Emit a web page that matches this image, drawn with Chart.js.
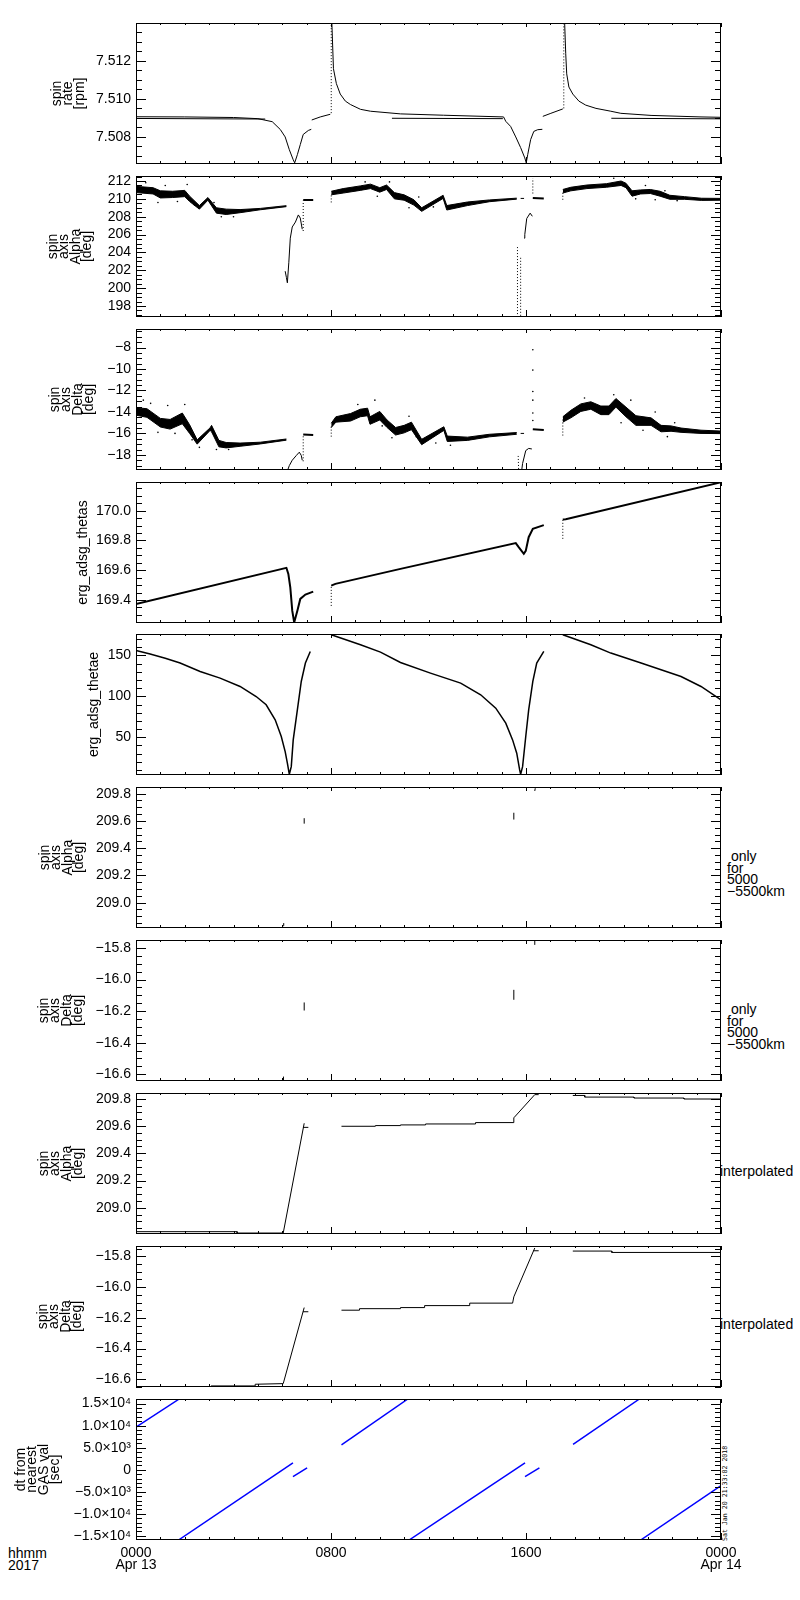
<!DOCTYPE html>
<html>
<head>
<meta charset="utf-8">
<script src="https://cdn.jsdelivr.net/npm/chart.js@4.4.1/dist/chart.umd.min.js"></script>
<style>
  body { margin: 0; background: #fff; width: 800px; height: 1600px; position: relative; overflow: hidden;
         font-family: "Liberation Sans", Arial, sans-serif; color: #000; }
  canvas { position: absolute; left: 0; }
  .note { position: absolute; font-size: 14px; line-height: 11.5px; white-space: pre; }
  .stamp { position: absolute; left: 721px; top: 1541px; font: 6.6px "DejaVu Sans Mono", monospace;
           white-space: pre; transform: rotate(-90deg); transform-origin: left top; }
</style>
</head>
<body>
<div class="note" style="left:8px;top:1547px;line-height:12px">hhmm
2017</div>
<div class="note" style="left:727px;top:851px"> only
for
5000
−5500km</div>
<div class="note" style="left:727px;top:1004px"> only
for
5000
−5500km</div>
<div class="note" style="left:720px;top:1166px">interpolated</div>
<div class="note" style="left:720px;top:1319px">interpolated</div>
<div class="stamp">Sat Jan 20 21:33:02 2018</div>
<script>
// ---- data: [hour of Apr 13, value] ----
const hourTicks = [0, 8, 16, 24];
const hourLabels = [["0000", "Apr 13"], ["0800"], ["1600"], ["0000", "Apr 14"]];

// spin rate [rpm]
const rateDipA = [[0,7.50906],[2.0,7.50905],[4.0,7.50902],[5.0,7.50896],[5.59,7.50880],[5.92,7.50839],[6.12,7.50800],[6.29,7.50733],[6.45,7.50680],[6.51,7.50664],[6.62,7.50707],[6.74,7.50760],[6.86,7.50813],[7.07,7.50834],[7.19,7.50840]];
const rateStepA = [[7.21,7.50889],[7.56,7.50905],[7.97,7.50919]];
const rateSpikeA = [[8.01,7.50925],[8.01,7.51420]];
const rateDecayA = [[8.03,7.51420],[8.10,7.51158],[8.22,7.51080],[8.38,7.51025],[8.59,7.50988],[8.80,7.50970],[9.21,7.50945],[9.62,7.50935],[10.85,7.50921],[12.62,7.50914],[15.08,7.50905],[15.17,7.50882],[15.37,7.50855],[15.58,7.50800],[15.78,7.50744],[15.95,7.50690],[16.01,7.50664],[16.07,7.50707],[16.19,7.50786],[16.32,7.50829],[16.48,7.50838],[16.67,7.50840]];
const rateStepB = [[16.69,7.50908],[17.02,7.50924],[17.51,7.50947]];
const rateSpikeB = [[17.55,7.50950],[17.55,7.51420]];
const rateDecayB = [[17.58,7.51420],[17.63,7.51237],[17.67,7.51131],[17.76,7.51062],[17.92,7.51025],[18.17,7.50988],[18.45,7.50967],[18.87,7.50950],[19.48,7.50935],[19.89,7.50924],[21.13,7.50913],[23.18,7.50905],[24,7.50903]];
const rateLowA = [[0,7.50897],[5.3,7.50894]];
const rateLowB = [[10.5,7.50898],[15.05,7.50896]];
const rateLowC = [[19.5,7.50898],[24,7.50895]];

// spin axis alpha [deg]: [hour, low, high] for the noisy band
const alphaBandA = [[0,210.7,211.4],[0.7,210.55,211.25],[1.0,210.1,210.9],[1.5,210.15,210.85],[2.0,210.25,210.95],[2.2,209.7,210.3],[2.6,208.85,209.25],[2.95,209.85,210.15],[3.3,208.4,209.0],[3.7,208.25,208.85],[4.27,208.45,208.8],[5.1,208.78,208.93],[6.17,209.13,209.24]];
const alphaBandB = [[8.01,210.45,210.85],[8.5,210.65,211.15],[9.2,210.95,211.45],[9.62,211.15,211.65],[10.0,210.75,211.25],[10.28,211.05,211.55],[10.6,210.0,210.7],[11.0,209.85,210.45],[11.4,209.3,209.9],[11.72,208.6,209.0],[12.6,210.05,210.4],[12.75,208.75,209.25],[13.6,209.25,209.65],[14.5,209.68,209.88],[15.62,209.97,210.08]];
const alphaBandC = [[17.51,210.65,211.05],[17.84,210.9,211.3],[18.5,211.15,211.55],[19.3,211.3,211.7],[19.9,211.5,212.0],[20.1,211.25,211.75],[20.35,210.3,210.9],[20.7,210.55,211.0],[21.1,210.6,211.05],[21.5,210.3,210.85],[21.9,209.95,210.4],[22.5,209.95,210.25],[23.2,209.83,210.07],[24,209.85,210.05]];
const alphaDipA = [[6.12,201.9],[6.17,201.2],[6.21,200.6],[6.27,202.9],[6.33,205.6],[6.41,206.85],[6.54,207.4],[6.66,208.2],[6.74,207.85],[6.82,206.6]];
const alphaJumpA = [[6.86,206.4],[6.86,209.8]];
const alphaFlatA = [[6.86,209.87],[7.27,209.87]];
const alphaStartB = [[8.01,209.6],[8.01,210.6]];
const alphaDashB = [[15.78,210.05],[15.92,210.05]];
const alphaSpikeB = [[16.28,210.6],[16.28,212.3]];
const alphaFlatB = [[16.28,210.1],[16.73,210.05]];
const alphaFallB1 = [[15.65,204.6],[15.65,196.7]];
const alphaFallB2 = [[15.78,203.4],[15.78,196.7]];
const alphaDipB = [[15.92,205.6],[15.95,206.0],[16.03,207.8],[16.17,208.4],[16.26,208.05]];
const alphaStartC = [[17.51,209.9],[17.51,210.8]];
const alphaScatter = [[0.4,211.8],[0.9,209.6],[1.2,211.5],[1.7,209.7],[2.1,211.6],[2.4,209.3],[3.2,209.6],[3.5,208.0],[4.0,208.0],[9.4,211.9],[9.9,210.3],[10.4,211.9],[11.2,209.0],[11.6,210.2],[12.2,209.1],[13.0,209.0],[19.6,212.3],[20.5,210.0],[20.9,211.5],[21.3,209.9],[21.7,210.9],[22.2,209.8]];

// spin axis delta [deg]
const deltaBandA = [[0,-14.3,-13.6],[0.45,-14.5,-13.7],[1.0,-15.4,-14.6],[1.4,-15.6,-14.7],[1.9,-15.1,-14.1],[2.2,-16.0,-15.2],[2.51,-17.0,-16.6],[3.04,-15.72,-15.48],[3.1,-15.85,-15.25],[3.4,-17.25,-16.65],[3.7,-17.35,-16.85],[4.27,-17.2,-16.9],[5.1,-16.98,-16.82],[6.17,-16.63,-16.52]];
const deltaBandB = [[8.01,-15.45,-15.05],[8.2,-14.95,-14.45],[8.8,-14.85,-14.15],[9.2,-14.45,-13.75],[9.5,-14.35,-13.65],[9.6,-15.15,-14.45],[10.0,-14.75,-13.95],[10.3,-15.45,-14.75],[10.65,-16.15,-15.45],[11.0,-15.95,-15.25],[11.3,-15.65,-14.95],[11.72,-17.05,-16.55],[12.63,-15.72,-15.38],[12.77,-16.75,-16.25],[13.6,-16.65,-16.35],[14.5,-16.32,-16.08],[15.62,-16.08,-15.92]];
const deltaBandC = [[17.51,-14.95,-14.45],[17.84,-14.55,-13.85],[18.25,-13.95,-13.25],[18.66,-13.75,-13.05],[19.07,-14.25,-13.45],[19.4,-14.25,-13.45],[19.69,-13.55,-12.75],[20.1,-14.45,-13.55],[20.51,-15.25,-14.35],[21.13,-15.25,-14.55],[21.54,-15.85,-15.25],[21.95,-15.8,-15.3],[22.36,-15.9,-15.5],[23.18,-16.0,-15.7],[24,-16.02,-15.78]];
const deltaDipA = [[6.21,-19.5],[6.29,-19.0],[6.41,-18.5],[6.58,-18.05],[6.70,-17.75],[6.78,-18.05],[6.82,-18.5]];
const deltaJumpA = [[6.86,-18.6],[6.86,-16.1]];
const deltaFlatA = [[6.86,-16.1],[7.27,-16.15]];
const deltaStartB = [[8.01,-16.3],[8.01,-15.2]];
const deltaDashB = [[15.78,-16.0],[15.92,-16.0]];
const deltaSpikeB = [[16.28,-8.2],[16.28,-10.1],[16.28,-12.1],[16.28,-12.9],[16.28,-14.1],[16.28,-14.8]];
const deltaFlatB = [[16.28,-15.62],[16.73,-15.68]];
const deltaFallB = [[15.68,-18.1],[15.70,-19.5]];
const deltaDipB = [[15.82,-19.5],[15.86,-18.8],[15.99,-17.6],[16.11,-17.4],[16.24,-17.45]];
const deltaStartC = [[17.51,-16.2],[17.51,-14.6]];
const deltaScatter = [[0.3,-12.9],[0.6,-13.2],[0.9,-15.9],[1.3,-13.4],[1.6,-16.0],[2.0,-13.3],[2.3,-16.6],[2.6,-17.3],[3.3,-17.5],[3.8,-17.5],[9.1,-13.3],[9.8,-12.9],[10.1,-15.3],[10.5,-16.4],[11.2,-14.4],[11.5,-16.3],[12.3,-16.9],[12.9,-17.1],[18.4,-12.7],[19.6,-12.4],[19.9,-15.0],[20.3,-12.9],[20.8,-15.7],[21.3,-14.0],[21.8,-16.3],[22.1,-15.0]];

// erg_adsg_thetas
const thetasA = [[0,169.373],[6.17,169.616],[6.25,169.575],[6.33,169.485],[6.41,169.328],[6.49,169.249],[6.62,169.328],[6.74,169.407],[6.95,169.436],[7.27,169.456]];
const thetasStartB = [[8.01,169.36],[8.01,169.496]];
const thetasB = [[8.01,169.496],[8.18,169.508],[10.85,169.609],[15.58,169.782],[15.7,169.755],[15.91,169.71],[15.99,169.73],[16.11,169.822],[16.28,169.878],[16.73,169.903]];
const thetasStartC = [[17.51,169.811],[17.51,169.941]];
const thetasC = [[17.51,169.941],[17.63,169.943],[24,170.191]];

// erg_adsg_thetae
const thetaeA = [[0,156.1],[0.58,151.7],[1.2,146.5],[1.81,140.7],[2.63,130.4],[3.45,122.3],[4.27,112.1],[4.93,99.8],[5.34,89.7],[5.71,71.3],[5.96,50.9],[6.12,32.5],[6.21,18.3],[6.29,4.8],[6.37,14.1],[6.45,46.8],[6.62,83.5],[6.78,118.2],[6.95,140.7],[7.15,154.9]];
const thetaeB = [[8.01,175.3],[9.21,163.1],[10.03,154.1],[10.85,141.4],[12.08,128.4],[13.32,116.2],[14.14,101.9],[14.76,85.6],[15.17,67.3],[15.45,46.8],[15.62,30.5],[15.74,10.1],[15.78,4.8],[15.86,14.1],[15.99,50.9],[16.11,83.5],[16.28,118.2],[16.44,140.7],[16.73,154.9]];
const thetaeC = [[17.51,175.3],[18.66,163.1],[19.48,152.9],[20.72,140.7],[22.36,124.3],[23.18,112.1],[24,95.8]];

// only for 5000-5500 km
const alphaOnly = [[[6.04,208.83],[6.06,208.85]], [[6.9,209.58],[6.9,209.62]], [[15.5,209.61],[15.5,209.66]], [[16.36,209.82],[16.38,209.84]]];
const deltaOnly = [[[6.04,-16.64],[6.05,-16.615]], [[6.9,-16.196],[6.9,-16.145]], [[15.5,-16.128],[15.5,-16.065]], [[16.36,-15.78],[16.36,-15.75]]];

// interpolated
const alphaInterpA = [[0,208.825],[4.15,208.825],[4.15,208.815],[6.04,208.815],[6.9,209.62]];
const alphaCrossA = [[6.85,209.59],[7.07,209.59]];
const alphaInterpB = [[8.43,209.598],[9.82,209.598],[9.82,209.603],[10.85,209.603],[10.85,209.608],[11.88,209.608],[11.88,209.615],[13.93,209.615],[13.93,209.625],[15.5,209.625],[15.5,209.66],[16.36,209.83],[16.52,209.83]];
const alphaInterpC = [[17.92,209.824],[18.41,209.824],[18.41,209.812],[20.43,209.812],[20.43,209.805],[22.48,209.805],[22.48,209.798],[24,209.798]];
const deltaInterpA = [[1.27,-16.648],[3.08,-16.648],[3.08,-16.643],[4.89,-16.643],[4.89,-16.632],[6.04,-16.628],[6.9,-16.133]];
const deltaCrossA = [[6.85,-16.16],[7.07,-16.16]];
const deltaInterpB = [[8.43,-16.15],[9.17,-16.15],[9.17,-16.14],[10.85,-16.14],[10.85,-16.133],[11.84,-16.133],[11.84,-16.12],[13.69,-16.12],[13.69,-16.104],[15.45,-16.104],[15.5,-16.063],[16.36,-15.745]];
const deltaCrossB = [[16.3,-15.763],[16.52,-15.763]];
const deltaInterpC = [[17.92,-15.765],[19.52,-15.765],[19.52,-15.774],[24,-15.774]];

// dt from nearest GAS val [sec]
const dtRamps = [
  [[0,9670],[1.76,16000]],
  [[1.76,-15900],[6.44,1560]],
  [[6.44,-1560],[7.02,420]],
  [[8.43,5660],[11.14,16000]],
  [[11.22,-15900],[15.96,1560]],
  [[15.96,-1560],[16.55,420]],
  [[17.93,5730],[20.64,16000]],
  [[20.72,-15900],[24,-3610]]
];
const dtTicks = [-15000, -10000, -5000, 0, 5000, 10000, 15000];
const dtLabels = ["−1.5×10⁴", "−1.0×10⁴", "−5.0×10³", "0", "5.0×10³", "1.0×10⁴", "1.5×10⁴"];

// ---- helpers ----
const FONT = '"Liberation Sans", Arial, sans-serif';

function pts(a, k) { return a.map(p => ({ x: p[0], y: p[k || 1] })); }
function line(a, extra) {
  return Object.assign({ data: pts(a), showLine: true, borderColor: '#000', backgroundColor: '#000',
    borderWidth: 1, pointRadius: 0, tension: 0, fill: false }, extra || {});
}
function dotted(a) { return line(a, { borderDash: [1, 2] }); }
function dots(a) { return { data: pts(a), showLine: false, pointRadius: 0.8, pointBorderWidth: 0, backgroundColor: '#000' }; }
function band(a) {
  return [
    { data: pts(a, 2), showLine: true, borderColor: '#000', borderWidth: 1, pointRadius: 0, fill: false },
    { data: pts(a, 1), showLine: true, borderColor: '#000', borderWidth: 1, pointRadius: 0, fill: '-1', backgroundColor: '#000' }
  ];
}
function fmt(v, d) {
  const s = Math.abs(v).toFixed(d);
  return (v < -1e-9 ? '−' : '') + s;
}
function dtFmt(v) {
  const i = dtTicks.findIndex(t => Math.abs(t - v) < 1);
  return i < 0 ? '' : dtLabels[i];
}

// inward tick marks on all four sides + the frame
const frameTicks = {
  id: 'frameTicks',
  afterDraw(chart, args, opts) {
    const { ctx, chartArea: a, scales: { x, y } } = chart;
    ctx.save();
    ctx.strokeStyle = '#000';
    ctx.lineWidth = 1;
    ctx.beginPath();
    for (let h = 0; h <= 24; h++) {
      const px = Math.round(x.getPixelForValue(h)) + 0.5;
      const big = h % 8 === 0;
      ctx.moveTo(px, a.bottom); ctx.lineTo(px, a.bottom - (big ? 7 : 3));
      ctx.moveTo(px, a.top); ctx.lineTo(px, a.top + (big ? 4 : 2));
    }
    const m = opts.minor, s = opts.step;
    for (let k = Math.ceil(y.min / m - 1e-6); k * m <= y.max + 1e-9; k++) {
      const v = k * m;
      const py = Math.round(y.getPixelForValue(v)) + 0.5;
      const big = Math.abs(v / s - Math.round(v / s)) < 1e-6;
      const len = big ? 10 : 6;
      ctx.moveTo(a.left, py); ctx.lineTo(a.left + len, py);
      ctx.moveTo(a.right, py); ctx.lineTo(a.right - len, py);
    }
    ctx.stroke();
    ctx.strokeRect(a.left + 0.5, a.top + 0.5, a.right - a.left - 1, a.bottom - a.top - 1);
    ctx.restore();
  }
};

const panels = [
  { title: ['spin', 'rate', '[rpm]'], tx: 57, min: 7.50658, max: 7.51398, step: 0.002, minor: 0.0005, dec: 3,
    sets: [line(rateDipA), line(rateStepA), dotted(rateSpikeA), line(rateDecayA), line(rateStepB), dotted(rateSpikeB),
           line(rateDecayB), line(rateLowA), line(rateLowB), line(rateLowC)] },
  { title: ['spin', 'axis', 'Alpha', '[deg]'], tx: 53, min: 196.77, max: 212.56, step: 2, minor: 0.5, dec: 0,
    sets: [...band(alphaBandA), ...band(alphaBandB), ...band(alphaBandC), dots(alphaScatter), line(alphaDipA), dotted(alphaJumpA),
           line(alphaFlatA, { borderWidth: 2 }), dotted(alphaStartB), line(alphaDashB), dotted(alphaSpikeB),
           line(alphaFlatB, { borderWidth: 2 }), dotted(alphaFallB1), dotted(alphaFallB2), line(alphaDipB), dotted(alphaStartC)] },
  { title: ['spin', 'axis', 'Delta', '[deg]'], tx: 55, min: -19.41, max: -6.27, step: 2, minor: 0.5, dec: 0,
    sets: [...band(deltaBandA), ...band(deltaBandB), ...band(deltaBandC), dots(deltaScatter), line(deltaDipA), dotted(deltaJumpA),
           line(deltaFlatA, { borderWidth: 2 }), dotted(deltaStartB), line(deltaDashB), dots(deltaSpikeB),
           line(deltaFlatB, { borderWidth: 2 }), dotted(deltaFallB), line(deltaDipB), dotted(deltaStartC)] },
  { title: 'erg_adsg_thetas', tx: 83, min: 169.245, max: 170.193, step: 0.2, minor: 0.05, dec: 1,
    sets: [line(thetasA, { borderWidth: 2 }), dotted(thetasStartB), line(thetasB, { borderWidth: 2 }),
           dotted(thetasStartC), line(thetasC, { borderWidth: 2 })] },
  { title: 'erg_adsg_thetae', tx: 94, min: 3.9, max: 176.2, step: 50, minor: 10, dec: 0,
    sets: [line(thetaeA, { borderWidth: 1.5 }), line(thetaeB, { borderWidth: 1.5 }), line(thetaeC, { borderWidth: 1.5 })] },
  { title: ['spin', 'axis', 'Alpha', '[deg]'], tx: 45, min: 208.814, max: 209.849, step: 0.2, minor: 0.05, dec: 1,
    sets: alphaOnly.map(a => line(a)) },
  { title: ['spin', 'axis', 'Delta', '[deg]'], tx: 44, min: -16.643, max: -15.749, step: 0.2, minor: 0.05, dec: 1,
    sets: deltaOnly.map(a => line(a)) },
  { title: ['spin', 'axis', 'Alpha', '[deg]'], tx: 44, min: 208.808, max: 209.842, step: 0.2, minor: 0.05, dec: 1,
    sets: [line(alphaInterpA), line(alphaCrossA), line(alphaInterpB), line(alphaInterpC)] },
  { title: ['spin', 'axis', 'Delta', '[deg]'], tx: 43, min: -16.650, max: -15.732, step: 0.2, minor: 0.05, dec: 1,
    sets: [line(deltaInterpA), line(deltaCrossA), line(deltaInterpB), line(deltaCrossB), line(deltaInterpC)] },
  { title: ['dt from', 'nearest', 'GAS val', '[sec]'], tx: 21, min: -15950, max: 16050, step: 5000, minor: 1000,
    tickList: dtTicks, labels: dtFmt,
    sets: dtRamps.map(a => line(a, { borderColor: '#0000ff', borderWidth: 1.5 })) }
];

panels.forEach(function (p, i) {
  const last = i === panels.length - 1;
  const top = Math.round(23 + i * 152.85) - 8;
  const H = 8 + 141 + (last ? 45 : 8);
  const padL = p.tx - 6;
  const cv = document.createElement('canvas');
  cv.width = 800;
  cv.height = H;
  cv.style.top = top + 'px';
  document.body.appendChild(cv);

  new Chart(cv, {
    type: 'scatter',
    data: { datasets: p.sets },
    options: {
      responsive: false,
      animation: false,
      events: [],
      layout: { padding: { left: padL, right: 79, top: 8, bottom: last ? 5 : 8 } },
      plugins: {
        legend: { display: false },
        tooltip: { enabled: false },
        frameTicks: { step: p.step, minor: p.minor }
      },
      scales: {
        x: {
          type: 'linear', min: 0, max: 24, display: last,
          grid: { display: false, drawTicks: false }, border: { display: false },
          ticks: {
            stepSize: 8, autoSkip: false, maxRotation: 0, padding: 7, color: '#000',
            font: { family: FONT, size: 14, lineHeight: 0.86 },
            callback: v => { const k = hourTicks.indexOf(v); return k < 0 ? '' : hourLabels[k]; }
          },
          afterFit: s => { if (last) s.height = 40; }
        },
        y: {
          type: 'linear', min: p.min, max: p.max,
          grid: { display: false, drawTicks: false }, border: { display: false },
          title: { display: true, text: p.title, color: '#000', padding: 0,
                   font: { family: FONT, size: 14, lineHeight: '11.5px' } },
          ticks: {
            stepSize: p.step, includeBounds: false, autoSkip: false, padding: 5, color: '#000',
            font: { family: FONT, size: 14 },
            callback: p.labels ? (v => p.labels(v)) : (v => fmt(v, p.dec))
          },
          afterBuildTicks: s => { if (p.tickList) s.ticks = p.tickList.map(v => ({ value: v })); },
          // fixed axis width, and no extra room asked for the end labels
          afterFit: s => { s.width = 136 - padL; s.paddingTop = 0; s.paddingBottom = 0; }
        }
      }
    },
    plugins: [frameTicks]
  });
});
</script>
</body>
</html>
